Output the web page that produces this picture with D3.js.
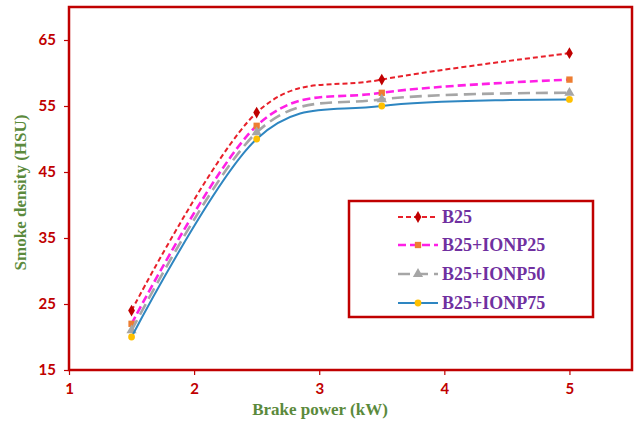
<!DOCTYPE html>
<html><head><meta charset="utf-8">
<script src="https://cdn.jsdelivr.net/npm/d3@7"></script>
<style>body{margin:0;background:#fff} .serif{font-family:"Liberation Serif","DejaVu Serif","Times New Roman",Times,serif;font-weight:bold}</style>
</head><body>
<svg id="c" width="634" height="425"></svg>
<script>
const xValues = [1.5, 2.5, 3.5, 5];
const seriesNames = ["B25", "B25+IONP25", "B25+IONP50", "B25+IONP75"];
const b25 = [24, 54, 59, 63];
const ionp25 = [22, 52, 57, 59];
const ionp50 = [21, 51, 56, 57];
const ionp75 = [20, 50, 55, 56];
const xTicks = [1, 2, 3, 4, 5];
const yTicks = [15, 25, 35, 45, 55, 65];

const styles = [
  {line:"#e8202a", dash:"5,3", width:2, marker:"diamond", mfill:"#c00000", msize:40},
  {line:"#ff1fe6", dash:"8,4", width:2.6, marker:"square", mfill:"#ed7d31", msize:40},
  {line:"#a6a6a6", dash:"12,6", width:2.6, marker:"triangle", mfill:"#a6a6a6", msize:45},
  {line:"#2e86c1", dash:null, width:2, marker:"circle", mfill:"#ffc000", msize:36}
];
const data = [b25, ionp25, ionp50, ionp75];

const svg = d3.select("#c");
const m = {l:69, r:632, t:7, b:370};
const x = d3.scaleLinear().domain([1, 5.5]).range([m.l, m.r]);
const y = d3.scaleLinear().domain([15, 70]).range([m.b, m.t]);
const red = "#c00000";

svg.append("rect").attr("x", m.l).attr("y", m.t).attr("width", m.r - m.l).attr("height", m.b - m.t)
  .attr("fill", "#fff").attr("stroke", red).attr("stroke-width", 2.5);

const yAxis = svg.append("g").attr("transform", `translate(${m.l},0)`)
  .call(d3.axisLeft(y).tickValues(yTicks).tickFormat(d3.format("d")).tickSize(5).tickPadding(8));
const xAxis = svg.append("g").attr("transform", `translate(0,${m.b})`)
  .call(d3.axisBottom(x).tickValues(xTicks).tickFormat(d3.format("d")).tickSize(5).tickPadding(8));
[yAxis, xAxis].forEach(a => {
  a.select(".domain").remove();
  a.selectAll("line").attr("stroke", red).attr("stroke-width", 1.2);
  a.selectAll("text").attr("fill", red).style("font-family", "Lato, 'Open Sans', sans-serif")
   .style("font-weight", "bold").style("font-size", "15px");
});

const symType = {diamond:d3.symbolDiamond, square:d3.symbolSquare, triangle:d3.symbolTriangle, circle:d3.symbolCircle};
const line = d3.line().x((d,i) => x(xValues[i])).y(d => y(d)).curve(d3.curveCardinal.tension(0));

data.forEach((vals, k) => {
  const s = styles[k];
  svg.append("path").datum(vals).attr("d", line).attr("fill", "none")
    .attr("stroke", s.line).attr("stroke-width", s.width)
    .attr("stroke-dasharray", s.dash);
  svg.selectAll(null).data(vals).enter().append("path")
    .attr("transform", (d,i) => `translate(${x(xValues[i])},${y(d)})`)
    .attr("d", d3.symbol().type(symType[s.marker]).size(s.msize))
    .attr("fill", s.mfill);
});

const lg = svg.append("g");
lg.append("rect").attr("x", 349).attr("y", 201).attr("width", 244).attr("height", 116)
  .attr("fill", "#fff").attr("stroke", red).attr("stroke-width", 2.5);
const rowY = [217, 245, 274, 303];
seriesNames.forEach((name, k) => {
  const s = styles[k];
  lg.append("line").attr("x1", 398).attr("x2", 438).attr("y1", rowY[k]).attr("y2", rowY[k])
    .attr("stroke", s.line).attr("stroke-width", s.width).attr("stroke-dasharray", s.dash);
  lg.append("path").attr("transform", `translate(418,${rowY[k]})`)
    .attr("d", d3.symbol().type(symType[s.marker]).size(s.msize)).attr("fill", s.mfill);
  lg.append("text").attr("class", "serif").attr("x", 442).attr("y", rowY[k]).attr("dy", "0.35em")
    .attr("fill", "#7030a0").style("font-size", "18px").text(name);
});

svg.append("text").attr("class", "serif").attr("x", 320).attr("y", 415).attr("text-anchor", "middle")
  .attr("fill", "#5b8a3c").style("font-size", "17px").text("Brake power (kW)");
svg.append("text").attr("class", "serif").attr("transform", `translate(26,${(m.t + m.b) / 2 + 4}) rotate(-90)`)
  .attr("text-anchor", "middle")
  .attr("fill", "#5b8a3c").style("font-size", "17px").text("Smoke density (HSU)");
</script>
</body></html>
